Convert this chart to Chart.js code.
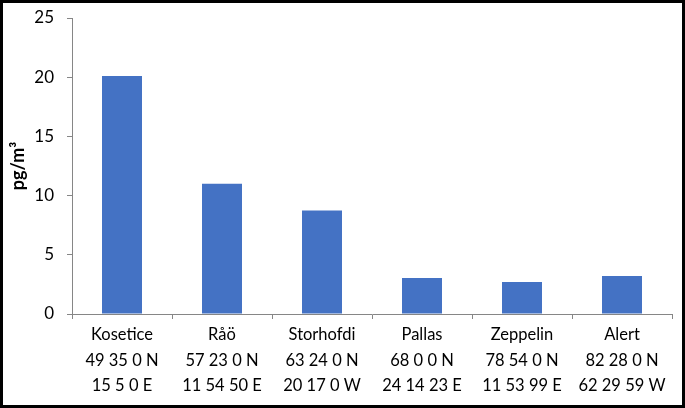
<!DOCTYPE html>
<html>
<head>
<meta charset="utf-8">
<script src="https://cdn.jsdelivr.net/npm/chart.js@4/dist/chart.umd.min.js"></script>
<style>
    html, body { margin: 0; padding: 0; background: #fff; }
    #wrap {
        width: 685px;
        height: 408px;
        box-sizing: border-box;
        border: 3px solid #000;
        position: relative;
    }
</style>
</head>
<body>
<div id="wrap"><canvas id="chart"></canvas></div>
<script>
const stations = ['Kosetice', 'Råö', 'Storhofdi', 'Pallas', 'Zeppelin', 'Alert'];
const latitudes = ['49 35 0 N', '57 23 0 N', '63 24 0 N', '68 0 0 N', '78 54 0 N', '82 28 0 N'];
const longitudes = ['15 5 0 E', '11 54 50 E', '20 17 0 W', '24 14 23 E', '11 53 99 E', '62 29 59 W'];
const concentrations = [20.1, 11.0, 8.75, 3.05, 2.7, 3.2];
const yTicks = [0, 5, 10, 15, 20, 25];

const axisColor = '#868686';
const fontFamily = 'Lato, "Open Sans", sans-serif';

// 観測所名と座標を3行ラベルにまとめる
const labels = stations.map((name, i) => [name, latitudes[i], longitudes[i]]);

new Chart(document.getElementById('chart').getContext('2d'), {
    type: 'bar',
    data: {
        labels: labels,
        datasets: [{
            data: concentrations,
            backgroundColor: '#4472C4',
            borderWidth: 0,
            categoryPercentage: 0.4,
            barPercentage: 1.0
        }]
    },
    options: {
        responsive: true,
        maintainAspectRatio: false,
        animation: false,
        layout: { padding: { top: 0, right: 10, bottom: 0, left: 0 } },
        plugins: {
            legend: { display: false },
            tooltip: { enabled: false }
        },
        scales: {
            x: {
                grid: {
                    display: true,
                    drawOnChartArea: false,
                    drawTicks: true,
                    tickLength: 5,
                    color: axisColor,
                    offset: true
                },
                border: { color: axisColor, width: 1 },
                ticks: {
                    color: '#000',
                    maxRotation: 0,
                    autoSkip: false,
                    padding: 3,
                    font: { family: fontFamily, size: 16.5, lineHeight: 1.55 }
                },
                afterFit: scale => {
                    scale.height = 91;
                    scale.paddingTop = 0;
                    scale.paddingBottom = 0;
                }
            },
            y: {
                min: 0,
                max: 25,
                afterBuildTicks: scale => {
                    scale.ticks = yTicks.map(v => ({ value: v }));
                },
                grid: {
                    display: true,
                    drawOnChartArea: false,
                    drawTicks: true,
                    tickLength: 5,
                    color: axisColor
                },
                border: { color: axisColor, width: 1 },
                ticks: {
                    color: '#000',
                    padding: 13,
                    font: { family: fontFamily, size: 17 }
                },
                title: {
                    display: true,
                    text: 'pg/m³',
                    color: '#000',
                    padding: { top: 4, bottom: 0 },
                    font: { family: fontFamily, size: 18, weight: 'bold' }
                },
                afterFit: scale => {
                    scale.width = 69;
                    scale.paddingTop = 15;
                }
            }
        }
    }
});
</script>
</body>
</html>
